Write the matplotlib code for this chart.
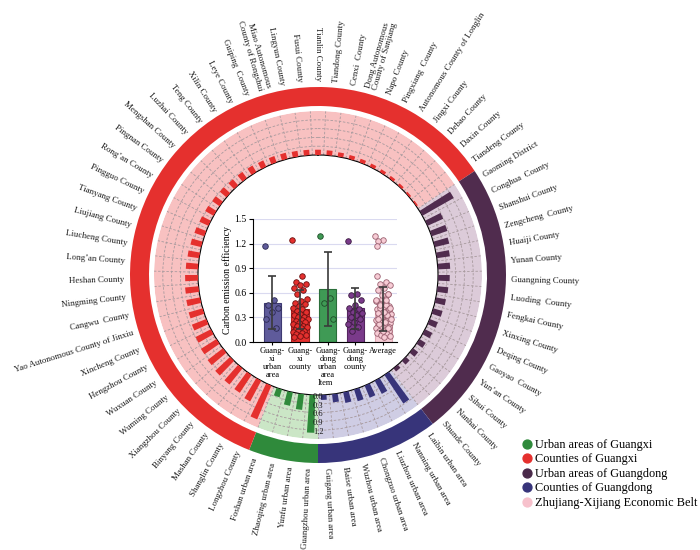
import numpy as np
import matplotlib
matplotlib.use("Agg")
import matplotlib.pyplot as plt
from matplotlib.lines import Line2D

plt.rcParams["font.family"] = "serif"
plt.rcParams["font.serif"] = ["Liberation Serif", "DejaVu Serif"]

# ---- data (clockwise from the bottom of the ring) ----
GD_URBAN = ["Guangzhou urban area", "Yunfu urban area", "Zhaoqing urban area",
            "Foshan urban area"]
gd_urban_vals = [1.29, 0.54, 0.47, 0.28]

GX_COUNTY = ["Longzhou County", "Shanglin County", "Mashan County", "Binyang County",
             "Xiangzhou County", "Wuming County", "Wuxuan County", "Hengzhou County",
             "Xincheng County", "Yao Autonomous County of Jinxiu", "Cangwu  County",
             "Ningming County", "Heshan County", "Long\u2019an County", "Liucheng County",
             "Liujiang County", "Tianyang County", "Pingguo County", "Rong\u2019an County",
             "Pingnan County", "Mengshan County", "Luzhai County", "Teng County",
             "Xilin County", "Leye County", "Guiping  County",
             "Miao Autonomous\nCounty of Rongshui", "Lingyun County", "Fusui County",
             "Tianlin County", "Tiandong County", "Cenxi  County",
             "Dong Autonomous\nCounty of Sanjiang", "Napo County", "Pingxiang  County",
             "Autonomous County of Longlin", "Jingxi County", "Debao County",
             "Daxin County", "Tiandeng County"]
gx_county_vals = [1.25, 0.80, 0.73, 0.71, 0.70, 0.66, 0.63, 0.59, 0.53, 0.50,
                  0.48, 0.46, 0.44, 0.42, 0.40, 0.38, 0.36, 0.34, 0.33, 0.31,
                  0.30, 0.28, 0.27, 0.26, 0.24, 0.23, 0.22, 0.20, 0.19, 0.18,
                  0.17, 0.15, 0.14, 0.13, 0.12, 0.11, 0.10, 0.09, 0.07, 0.06]

GD_COUNTY = ["Gaoming District", "Conghua  County", "Shanshui County",
             "Zengcheng  County", "Huaiji County", "Yunan County", "Guangning County",
             "Luoding  County", "Fengkai County", "Xinxing County", "Deqing County",
             "Gaoyao  County", "Yun\u2019an County", "Sihui County", "Nanhai County",
             "Shunde County"]
gd_county_vals = [1.23, 0.59, 0.57, 0.51, 0.45, 0.42, 0.40, 0.37, 0.35, 0.33,
                  0.30, 0.28, 0.25, 0.22, 0.18, 0.14]

GX_URBAN = ["Laibin urban area", "Nanning urban area", "Liuzhou urban area",
            "Chongzuo urban area", "Wuzhou urban area", "Baise urban area",
            "Guigang urban area"]
gx_urban_vals = [1.17, 0.51, 0.45, 0.42, 0.37, 0.28, 0.17]

# inner bar chart
inner_cats = ["Guang-\nxi\nurban\narea", "Guang-\nxi\ncounty", "Guang-\ndong\nurban\narea",
              "Guang-\ndong\ncounty", "Average"]
inner_means = [0.48, 0.40, 0.65, 0.41, 0.40]
inner_sd = [0.32, 0.24, 0.45, 0.25, 0.27]

legend_labels = ["Urban areas of Guangxi", "Counties of Guangxi",
                 "Urban areas of Guangdong", "Counties of Guangdong",
                 "Zhujiang-Xijiang Economic Belt"]

# ---- colours ----
C_GREEN, C_RED, C_PURP, C_NAVY = "#2f8a3b", "#e5302e", "#502c4e", "#37347a"
PALE = {"g": "#cbe6c6", "r": "#f8c1c1", "p": "#dccbd9", "n": "#cfcde4"}

groups = [(GD_URBAN, gd_urban_vals, C_GREEN, PALE["g"]),
          (GX_COUNTY, gx_county_vals, C_RED, PALE["r"]),
          (GD_COUNTY, gd_county_vals, C_PURP, PALE["p"]),
          (GX_URBAN, gx_urban_vals, C_NAVY, PALE["n"])]

labels = sum([g[0] for g in groups], [])
values = np.array(sum([list(g[1]) for g in groups], []))
bar_colors = sum([[g[2]] * len(g[0]) for g in groups], [])
n = len(labels)
slot = 2 * np.pi / n
TWO_PI = 2 * np.pi
theta = (np.pi + (np.arange(n) + 0.5) * slot) % TWO_PI

# group spans
starts = np.cumsum([0] + [len(g[0]) for g in groups])[:-1]
sizes = np.array([len(g[0]) for g in groups])
g_center = (np.pi + (starts + sizes / 2) * slot) % TWO_PI
g_width = sizes * slot

fig = plt.figure(figsize=(7, 5.5), dpi=100)
cx, cy = 318, 275  # px


def polar_axes(radius):
    a = fig.add_axes([(cx - radius) / 700, (550 - cy - radius) / 550,
                      2 * radius / 700, 2 * radius / 550], projection="polar")
    a.set_theta_zero_location("N")
    a.set_theta_direction(-1)
    a.set_facecolor("none")
    return a


# ---- outer ring + labels ----
axo = polar_axes(200)
axo.bar(g_center, 19, width=g_width, bottom=169,
        color=[g[2] for g in groups], edgecolor="none")
for t, lab in zip(theta, labels):
    deg = np.degrees(t) % 360
    if 0 < deg < 180:
        rot, ha = 90 - deg, "left"
    else:
        rot, ha = 270 - deg, "right"
    axo.text(t, 193.5, lab, rotation=rot, rotation_mode="anchor", ha=ha,
             va="center", fontsize=6.4, color="#1a1a1a", linespacing=1.0)
axo.set_xlim(0, TWO_PI)
axo.set_ylim(0, 200)
axo.set_axis_off()

# ---- band with bars ----
axp = polar_axes(164)
axp.bar(g_center, 1.5, width=g_width, bottom=0,
        color=[g[3] for g in groups], edgecolor="none", zorder=0.5)
axp.bar(theta, values, width=slot * 0.5, bottom=0, color=bar_colors,
        edgecolor="none", zorder=3)
axp.set_xticks((np.pi + np.arange(n) * slot) % TWO_PI)
axp.set_xticklabels([])
axp.set_yticks([0.3, 0.6, 0.9, 1.2])
axp.set_yticklabels([])
axp.set_xlim(0, TWO_PI)
axp.set_ylim(0, 1.5)
axp.set_rorigin(-120 / (44 / 1.5))
axp.grid(True, ls=(0, (3, 2)), color="#a89a9e", lw=0.6)
axp.spines["polar"].set_visible(False)
axp.spines["inner"].set_visible(False)
axp.tick_params(length=0)
for v in [0.0, 0.3, 0.6, 0.9, 1.2]:
    axp.text(np.pi, v + 0.06, f"{v:.1f}", ha="center", va="center",
             fontsize=6, color="#1a1a1a", zorder=5)

# ---- inner bar chart ----
axi = fig.add_axes([253 / 700, 1 - 342 / 550, 144 / 700, 123 / 550])
axi.set_facecolor("none")
inner_fill = ["#5f5b9b", "#e5302e", "#3f9a55", "#7a3a8a", "#f7ccd5"]
inner_edge = ["#3e3a72", "#b02020", "#2a6e3a", "#55255f", "#e0a8b4"]
xs = np.arange(len(inner_cats))
axi.bar(xs, inner_means, width=0.62, color=inner_fill, edgecolor=inner_edge,
        linewidth=0.8, zorder=2)
point_sets = [gx_urban_vals, gx_county_vals, gd_urban_vals, gd_county_vals, list(values)]
pt_edge = ["#2a2850", "#6a1010", "#1d4a26", "#3a1a40", "#9a6070"]
for i, pts in enumerate(point_sets):
    k = np.arange(len(pts))
    off = ((k * 0.618034) % 1 - 0.5) * 0.56
    axi.scatter(xs[i] + off, pts, s=16, color=inner_fill[i], edgecolor=pt_edge[i],
                linewidth=0.6, zorder=3)
axi.errorbar(xs, inner_means, yerr=inner_sd, fmt="none", ecolor="#3a3a3a",
             elinewidth=1.2, capsize=3, capthick=1.2, zorder=4)
axi.set_xlim(-0.7, 4.5)
axi.set_ylim(0, 1.5)
axi.set_yticks([0.0, 0.3, 0.6, 0.9, 1.2, 1.5])
axi.set_yticklabels(["0.0", "0.3", "0.6", "0.9", "1.2", "1.5"])
axi.grid(True, axis="y", color="#dadaf0", lw=0.8, zorder=0)
axi.set_axisbelow(True)
axi.set_xticks(xs)
axi.set_xticklabels(inner_cats, fontsize=6, linespacing=1.0)
axi.tick_params(axis="y", labelsize=7, length=3, width=0.8, pad=1.5)
axi.tick_params(axis="x", length=2, width=0.8, pad=1.5)
for s in ["top", "right"]:
    axi.spines[s].set_visible(False)
axi.set_ylabel("Carbon emission efficiency", fontsize=7, labelpad=2)
axi.set_xlabel("Item", fontsize=6, labelpad=0)

# ---- legend ----
handles = [Line2D([], [], marker="o", ls="none", markersize=6.4, color=c)
           for c in [C_GREEN, C_RED, "#4a2a4a", C_NAVY, "#f7c1cc"]]
fig.legend(handles, legend_labels, loc="upper left",
           bbox_to_anchor=(522 / 700, 1 - 439 / 550), frameon=False,
           fontsize=8.8, handlelength=0.8, handletextpad=0.3, labelspacing=0.2,
           borderpad=0, borderaxespad=0)

fig.savefig("out.png", dpi=100, facecolor="white")
